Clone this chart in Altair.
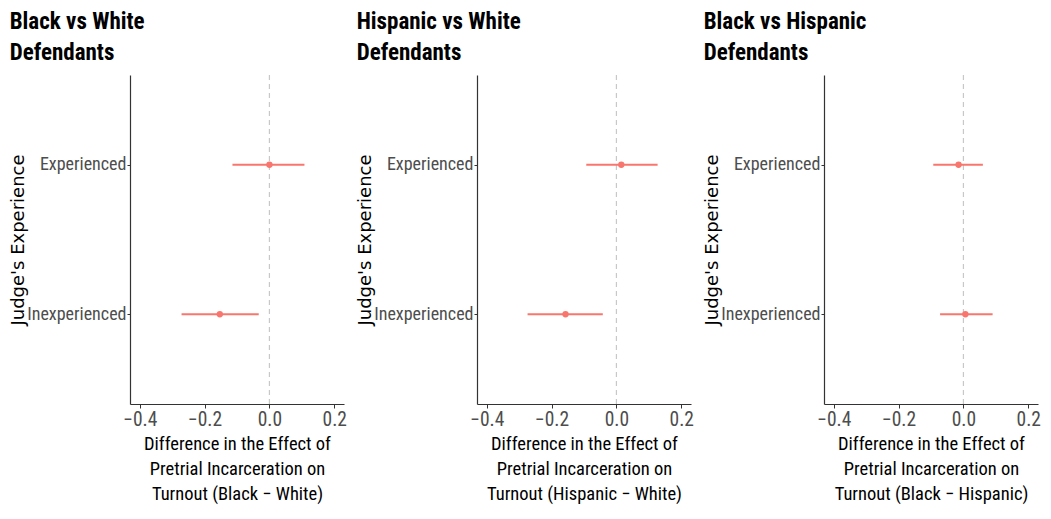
import altair as alt
import pandas as pd

experience = ["Experienced", "Inexperienced"]

titles = [["Black vs White", "Defendants"],
          ["Hispanic vs White", "Defendants"],
          ["Black vs Hispanic", "Defendants"]]
x_titles = [["Difference in the Effect of", "Pretrial Incarceration on", "Turnout (Black \u2212 White)"],
            ["Difference in the Effect of", "Pretrial Incarceration on", "Turnout (Hispanic \u2212 White)"],
            ["Difference in the Effect of", "Pretrial Incarceration on", "Turnout (Black \u2212 Hispanic)"]]

est_bw = [0.0, -0.153]
low_bw = [-0.114, -0.271]
high_bw = [0.108, -0.033]

est_hw = [0.015, -0.157]
low_hw = [-0.093, -0.274]
high_hw = [0.127, -0.042]

est_bh = [-0.015, 0.006]
low_bh = [-0.093, -0.072]
high_bh = [0.060, 0.090]

x_ticks = [-0.4, -0.2, 0.0, 0.2]
zero_line = [0.0]

RED = "#F8766D"
NARROW = "Roboto Condensed"
WIDE = "DejaVu Sans"


def panel(title, xtitle, est, low, high):
    df = pd.DataFrame({"exp": experience, "est": est, "low": low, "high": high})
    xscale = alt.Scale(domain=[-0.43, 0.23], nice=False, zero=False)
    yscale = alt.Scale(domain=experience, type="point", padding=0.6)
    xaxis = alt.Axis(values=x_ticks, format=".1f", title=xtitle, grid=False,
                     titleFont=NARROW, titleFontSize=18.5, titleFontWeight="normal",
                     titleColor="black", titleLineHeight=25, titlePadding=6,
                     labelFont=NARROW, labelFontSize=19.5, labelColor="#4d4d4d",
                     labelPadding=2, tickSize=4, tickColor="#333333",
                     domainColor="#333333", domainWidth=1.2)
    yaxis = alt.Axis(title="Judge's Experience", grid=False,
                     titleFont=WIDE, titleFontSize=18, titleFontWeight="normal",
                     titleColor="black", titlePadding=-1,
                     labelFont=NARROW, labelFontSize=18, labelColor="#4d4d4d",
                     labelPadding=1, tickSize=3, tickColor="#333333",
                     domainColor="#333333", domainWidth=1.2)
    zero = alt.Chart(pd.DataFrame({"z": zero_line})).mark_rule(
        color="#c8c8c8", strokeDash=[5, 4], strokeWidth=1.2
    ).encode(x=alt.X("z:Q", scale=xscale, axis=xaxis))
    bars = alt.Chart(df).mark_rule(color=RED, strokeWidth=2).encode(
        x=alt.X("low:Q", scale=xscale, axis=xaxis),
        x2="high:Q",
        y=alt.Y("exp:N", scale=yscale, axis=yaxis),
    )
    pts = alt.Chart(df).mark_circle(color=RED, size=40, opacity=1).encode(
        x=alt.X("est:Q", scale=xscale, axis=xaxis),
        y=alt.Y("exp:N", scale=yscale, axis=yaxis),
    )
    return alt.layer(zero, bars, pts).properties(
        width=214, height=329,
        view=alt.ViewBackground(stroke="transparent", strokeWidth=0),
        title=alt.TitleParams(title, anchor="start", font=NARROW, fontSize=23,
                              fontWeight="bold", color="black", lineHeight=31,
                              offset=9),
    )


chart = alt.hconcat(
    panel(titles[0], x_titles[0], est_bw, low_bw, high_bw),
    panel(titles[1], x_titles[1], est_hw, low_hw, high_hw),
    panel(titles[2], x_titles[2], est_bh, low_bh, high_bh),
    spacing=133, bounds="flush",
).configure_view(stroke="transparent", strokeWidth=0).configure(
    background="white", padding={"left": 1, "right": 0, "top": 3, "bottom": 4}
)

chart.save("out.html", embed_options={"renderer": "svg", "actions": False})
